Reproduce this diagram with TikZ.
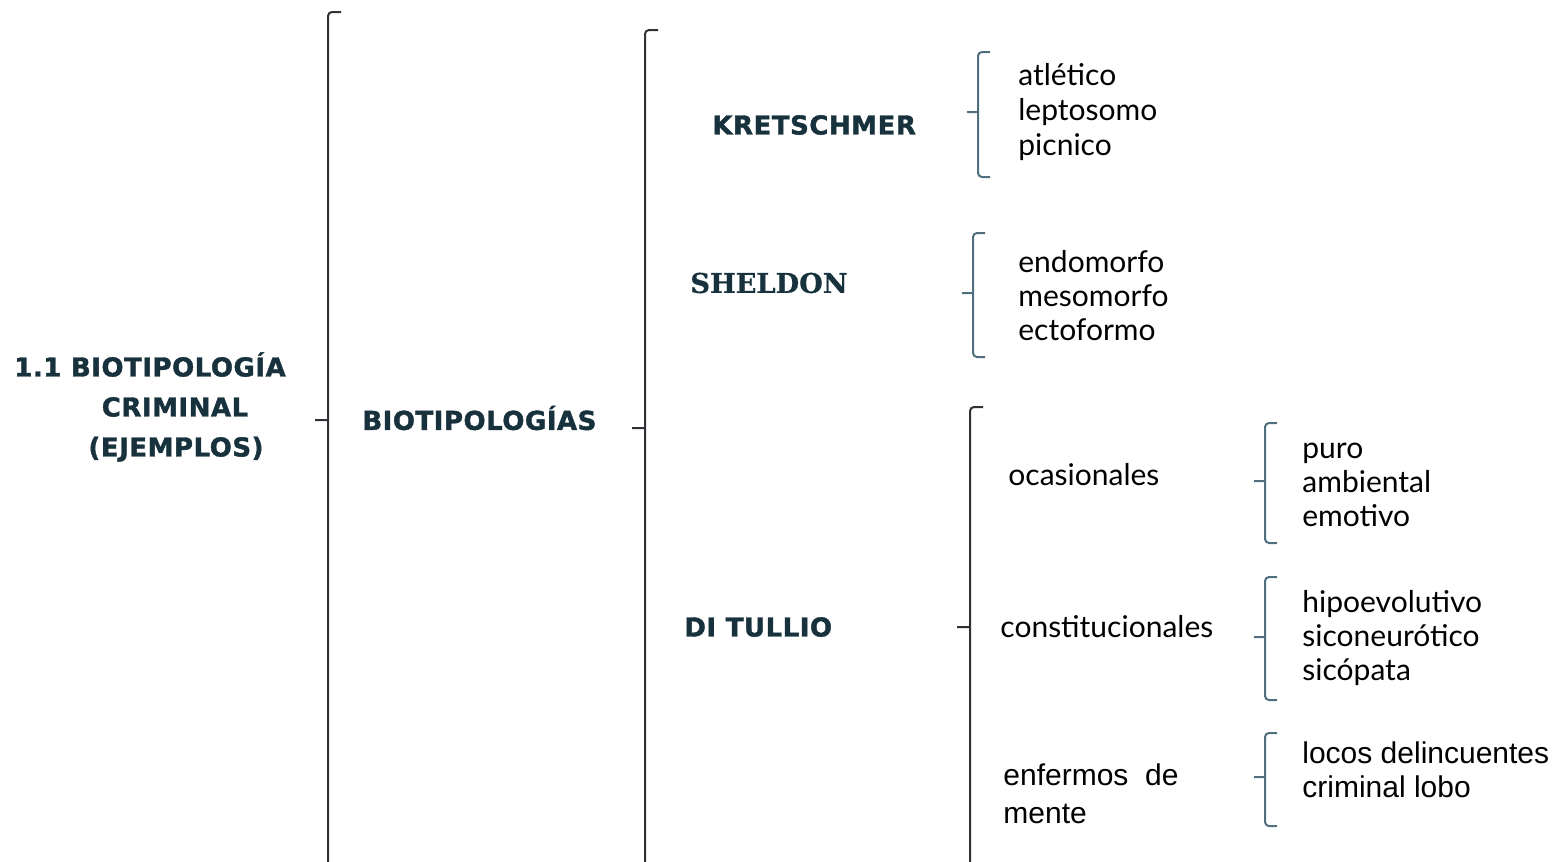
\documentclass[tikz,border=0pt]{standalone}
\usepackage{fontspec}
\setmainfont{Lato}
\newfontfamily\headfont[FakeBold=1.5,LetterSpace=2]{DejaVu Sans Bold}
\newfontfamily\serifhead[FakeBold=0.6]{DejaVu Serif Bold}
\newfontfamily\arialfont{Liberation Sans}
\definecolor{headblue}{HTML}{17313D}
\definecolor{bigline}{HTML}{2E3236}
\definecolor{smallline}{HTML}{4F6F7C}
\tikzset{
  head/.style={font=\headfont\fontsize{13}{20}\selectfont, text=headblue, inner sep=0pt},
  item/.style={font=\fontsize{15}{17.5}\selectfont, align=left, inner sep=0pt, anchor=west},
  bigbr/.style={draw=bigline, line width=1pt, rounded corners=2pt},
  smallbr/.style={draw=smallline, line width=1pt, rounded corners=2pt},
}
\begin{document}
\begin{tikzpicture}[x=0.5pt,y=-0.5pt]
    \useasboundingbox (0,0) rectangle (1555,862);
    % headings
    \node[head, align=center] (root) at (150,407) {1.1 BIOTIPOLOGÍA\\\hspace*{25pt}CRIMINAL\\\hspace*{26pt}(EJEMPLOS)};
    \node[head, anchor=west] (bio) at (362,418) {BIOTIPOLOGÍAS};
    \node[head, anchor=west] (kret) at (712,125) {KRETSCHMER};
    \node[head, anchor=west, font=\serifhead\fontsize{13.6}{16}\selectfont] (shel) at (690,283) {SHELDON};
    \node[head, anchor=west] (tull) at (684,627) {DI TULLIO};
    % second level
    \node[item] (ocas) at (1008,475) {ocasionales};
    \node[item] (const) at (1000,627) {constitucionales};
    \node[item, font=\arialfont\fontsize{15}{19}\selectfont] (enf) at (1003,794) {enfermos\ \ de\\mente};
    % lists
    \node[item] (kretlist) at (1018,112) {atlético\\leptosomo\\picnico};
    \node[item, font=\fontsize{15}{17}\selectfont] (shellist) at (1018,296) {endomorfo\\mesomorfo\\ectoformo};
    \node[item, font=\fontsize{15}{17}\selectfont] (ocaslist) at (1302,485) {puro\\ambiental\\emotivo};
    \node[item, font=\fontsize{15}{17}\selectfont] (constlist) at (1302,638) {hipoevolutivo\\siconeurótico\\sicópata};
    \node[item, font=\arialfont\fontsize{15}{17}\selectfont] (enflist) at (1302,770) {locos delincuentes\\criminal lobo};
    % long brackets
    \foreach \x/\t/\m in {328/12/420, 645/30/428, 970/407/627}
        \draw[bigbr] (\x+13,\t) -- (\x,\t) -- (\x,880) (\x,\m) -- (\x-13,\m);
    % short brackets
    \foreach \x/\t/\b/\m in {978/52/177/112, 973/233/357/293, 1265/423/543/481, 1265/577/700/637, 1265/733/826/777}
        \draw[smallbr] (\x+12,\t) -- (\x,\t) -- (\x,\b) -- (\x+12,\b) (\x,\m) -- (\x-11,\m);
\end{tikzpicture}
\end{document}
